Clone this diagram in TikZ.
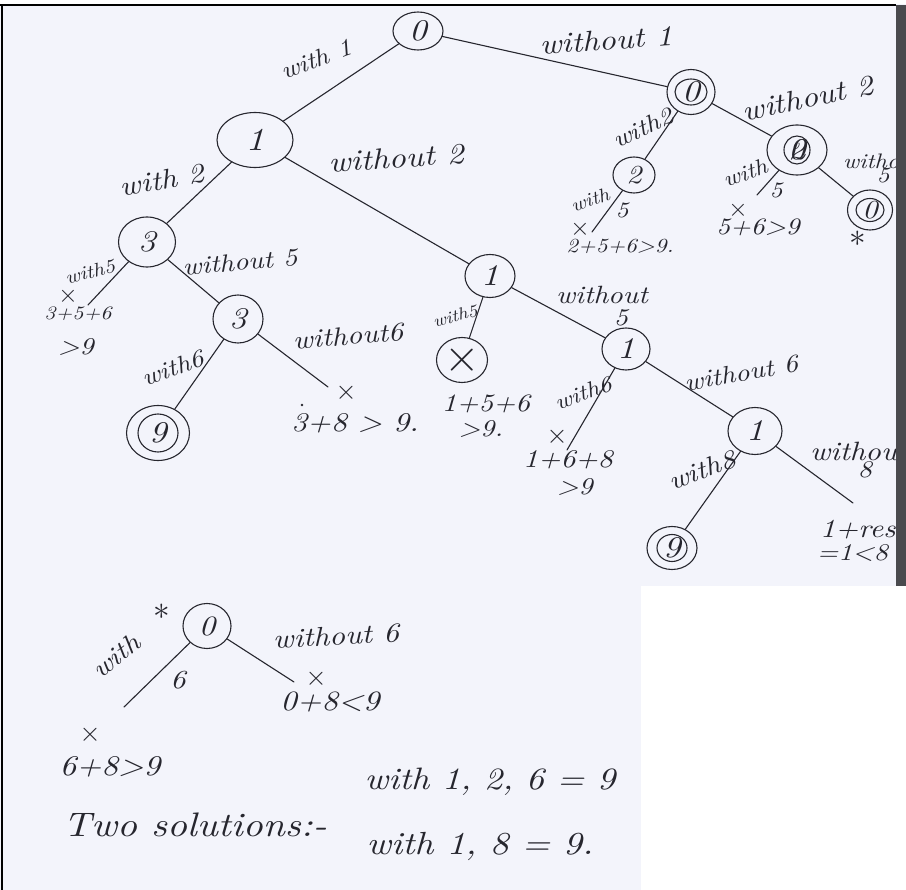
\documentclass[tikz,border=0pt]{standalone}
\usepackage{fontspec}
\usetikzlibrary{shapes.geometric}
% hand-lettering look: Latin Modern italic, slightly stretched
\newfontfamily\handfont[Extension=.otf, UprightFont=*-italic, FakeStretch=1.15]{lmroman10}
\newcommand\hsz[1]{\fontsize{#1}{#1}\selectfont}
\newcommand\crossmark[1]{\scalebox{#1}{$\times$}}
\newcommand\starmark{\scalebox{1.6}{$\ast$}}
\definecolor{paper}{RGB}{243,244,251}
\definecolor{ink}{RGB}{38,38,46}
\definecolor{bargray}{RGB}{74,74,78}
\tikzset{
  st/.style={ellipse, draw=ink, line width=1.1pt, inner sep=0pt, text=ink, font=\handfont\hsz{#1}},
  st/.default=30,
  lb/.style={font=\handfont\hsz{#1}, text=ink, inner sep=0pt},
  lb/.default=26,
  cross/.style={font=\hsz{20}, text=ink, inner sep=0pt},
  conn/.style={draw=ink, line width=1.1pt, line cap=round},
}
\begin{document}
\begin{tikzpicture}[x=1pt, y=-1pt]
\useasboundingbox (0,0) rectangle (906,890);
\clip (0,0) rectangle (906,890);
% scanned sheet
\fill[paper] (0,0) rectangle (906,890);
\fill[white] (0,0) rectangle (906,4);

% ---------------- state nodes ----------------
\node[st, minimum width=50, minimum height=38] (root) at (418,31) {0};
\node[st, minimum width=48, minimum height=45] (n0r) at (691,92) {0};
\node[st=26, minimum width=42, minimum height=36] (n2r) at (634,175) {2};
\node[st, minimum width=60, minimum height=50] (n0d) at (797,150) {\makebox[0pt]{2}\makebox[0pt]{0}};
\node[st=26, minimum width=45, minimum height=40] (n0s) at (870,210) {0};
\node[st=32, minimum width=76, minimum height=55] (n1) at (255,140) {1};
\node[st, minimum width=57, minimum height=50] (n3a) at (147,242) {3};
\node[st, minimum width=50, minimum height=48] (n3b) at (238,319) {3};
\node[st, minimum width=63, minimum height=55] (n9a) at (158,433) {9};
\node[st, minimum width=50, minimum height=43] (n1m) at (490,276) {1};
\node[st=20, minimum width=51, minimum height=45] (nX) at (462,360) {\crossmark{2.2}};
\node[st, minimum width=48, minimum height=42] (n1r) at (626,349) {1};
\node[st, minimum width=54, minimum height=47] (n1l) at (755,431) {1};
\node[st, minimum width=50, minimum height=43] (n9b) at (672,548) {9};
\node[st=28, minimum width=48, minimum height=45] (n0b) at (207,626) {0};

% inner rings of the doubled states
\draw[conn] (n0r.center) ellipse [x radius=16, y radius=13];
\draw[conn] (n0d.center) ellipse [x radius=13, y radius=14];
\draw[conn] (n0s.center) ellipse [x radius=14, y radius=11.5];
\draw[conn] (n9a.center) ellipse [x radius=20, y radius=19];
\draw[conn] (n9b.center) ellipse [x radius=15, y radius=13.5];

% free ends of pruned branches
\coordinate (c2x) at (592,232);
\coordinate (c5x) at (757,195);
\coordinate (c3x) at (88,305);
\coordinate (c38) at (328,387);
\coordinate (c168) at (567,450);
\coordinate (crest) at (853,503);
\coordinate (c68) at (124,707);
\coordinate (c08) at (294,682);

% ---------------- branches ----------------
\draw[conn] (root) -- (n1);
\draw[conn] (root) -- (n0r);
\draw[conn] (n0r) -- (n2r);
\draw[conn] (n0r) -- (n0d);
\draw[conn] (n2r) -- (c2x);
\draw[conn] (n0d) -- (c5x);
\draw[conn] (n0d) -- (n0s);
\draw[conn] (n1) -- (n3a);
\draw[conn] (n1) -- (n1m);
\draw[conn] (n3a) -- (c3x);
\draw[conn] (n3a) -- (n3b);
\draw[conn] (n3b) -- (n9a);
\draw[conn] (n3b) -- (c38);
\draw[conn] (n1m) -- (nX);
\draw[conn] (n1m) -- (n1r);
\draw[conn] (n1r) -- (c168);
\draw[conn] (n1r) -- (n1l);
\draw[conn] (n1l) -- (n9b);
\draw[conn] (n1l) -- (crest);
\draw[conn] (n0b) -- (c68);
\draw[conn] (n0b) -- (c08);

% ---------------- branch labels ----------------
\node[lb=24, rotate=20] (l1) at (316,59) {with 1};
\node[lb=28.5, rotate=4] (l2) at (606,40) {without 1};
\node[lb=27.5, rotate=10] (l3) at (162,180) {with 2};
\node[lb=29, rotate=4] (l4) at (396,158) {without 2};
\node[lb=24, rotate=25] (l5) at (643,128) {with2};
\node[lb=28.5, rotate=12] (l6) at (808,98) {without 2};
\node[lb=19, rotate=20] (l7) at (590,200) {with};
\node[lb=22] (l7b) at (622,210) {5};
\node[cross] (l7x) at (580,229) {\crossmark{1.2}};
\node[lb=20] (l7s) at (620,246) {2+5+6>9.};
\node[lb=22, rotate=20] (l8) at (745,173) {with};
\node[lb=22] (l8b) at (776,190) {5};
\node[cross] (l8x) at (738,210) {\crossmark{1.2}};
\node[lb=23.5] (l8s) at (758,227) {5+6>9};
\node[lb=21, anchor=west] (l9) at (843,161) {witho};
\node[lb=22] (l9b) at (883,175) {5};
\node[cross] (l9s) at (858,239) {\starmark};
\node[lb=19, rotate=15] (l10) at (90,272) {with5};
\node[cross] (l10x) at (68,296) {\crossmark{1.2}};
\node[lb=19] (l10s) at (78,314) {3+5+6};
\node[lb=24] (l10t) at (76,347) {>9};
\node[lb=24.6, rotate=5] (l11) at (240,262) {without 5};
\node[lb=24, rotate=20] (l12) at (173,368) {with6};
\node[lb=26, rotate=5] (l13) at (348,336) {without6};
\node[cross] (l13x) at (346,393) {\crossmark{1.3}};
\fill[ink] (302,405) circle [radius=1.3];
\node[lb=27] (l13s) at (355,423) {3+8 > 9.};
\node[lb=17, rotate=15] (l14) at (455,316) {with5};
\node[lb=25] (l14s) at (486,404) {1+5+6};
\node[lb=24] (l14t) at (481,429) {>9.};
\node[lb=25] (l15) at (602,295) {without};
\node[lb=24] (l15b) at (621,318) {5};
\node[lb=22, rotate=20] (l16) at (583,393) {with6};
\node[cross] (l16x) at (557,437) {\crossmark{1.3}};
\node[lb=25.5] (l16s) at (568,460) {1+6+8};
\node[lb=24] (l16t) at (575,487) {>9};
\node[lb=24.6, rotate=10] (l17) at (741,373) {without 6};
\node[lb=26, rotate=20] (l18) at (702,470) {with8};
\node[lb=26.5, anchor=west] (l19) at (810,451) {withou};
\node[lb=24] (l19b) at (865,470) {8};
\node[lb=26, anchor=west] (l19s) at (820,530) {1+rest};
\node[lb=24, anchor=west] (l19t) at (817,553) {=1<8};

% ---------------- lower subtree ----------------
\node[cross] (l20) at (162,612) {\starmark};
\node[lb=26, rotate=38] (l21) at (116,656) {with};
\node[lb=26] (l21b) at (178,680) {6};
\node[lb=27, rotate=3] (l22) at (336,636) {without 6};
\node[lb=28] (l22s) at (330,702) {0+8<9};
\node[cross] (l22x) at (316,679) {\crossmark{1.3}};
\node[cross] (l23x) at (90,735) {\crossmark{1.3}};
\node[lb=28.5] (l23s) at (110,767) {6+8>9};

% ---------------- conclusion ----------------
\node[lb=34] (sol) at (195,825) {Two solutions:-};
\node[lb=31] (sol1) at (490,782) {with 1, 2, 6 = 9};
\node[lb=32] (sol2) at (480,846) {with 1, 8 = 9.};

% sheet edges
\fill[white] (641,586) rectangle (906,890);
\fill[bargray] (896,5) rectangle (906,586);
\draw[black, line width=1.6pt] (0,5) -- (896,5);
\draw[black, line width=1.6pt] (2,5) -- (2,890);
\end{tikzpicture}
\end{document}
